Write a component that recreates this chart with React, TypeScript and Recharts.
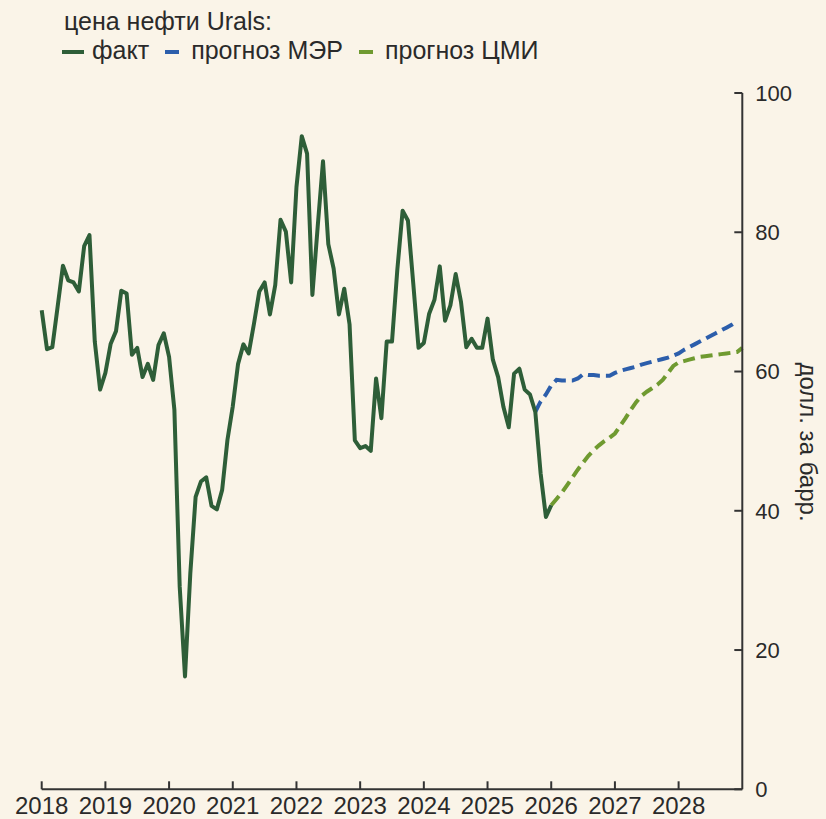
import { LineChart, Line, XAxis, YAxis } from 'recharts';

// monthly Urals price, Jan 2018 .. Jan 2026
const FACT = [
  68.8, 63.2, 63.5, 69.3, 75.2, 73.1, 72.8, 71.5, 78.0, 79.6, 64.3, 57.4,
  59.8, 64.0, 65.8, 71.6, 71.2, 62.4, 63.4, 59.2, 61.1, 58.8, 63.8, 65.5,
  62.1, 54.5, 29.1, 16.2, 31.0, 42.0, 44.2, 44.8, 40.7, 40.2, 43.0, 50.2,
  55.0, 61.1, 63.9, 62.6, 66.9, 71.5, 72.8, 68.2, 72.4, 81.8, 80.1, 72.8,
  86.5, 93.8, 91.3, 71.0, 80.8, 90.2, 78.3, 74.8, 68.2, 71.9, 66.8, 50.1,
  49.0, 49.3, 48.6, 59.0, 53.3, 64.3, 64.3, 74.6, 83.1, 81.7, 72.7, 63.4,
  64.1, 68.3, 70.3, 75.1, 67.3, 69.5, 74.0, 70.0, 63.5, 64.7, 63.4, 63.4,
  67.6, 61.7, 59.2, 54.9, 52.0, 59.7, 60.4, 57.4, 56.7, 54.2, 45.4, 39.1,
  40.8,
];

// прогноз МЭР, Oct 2025 .. Dec 2028
const MER_START = 93;
const MER = [
  54.2, 55.7, 56.7,
  58.0, 58.8, 58.7, 58.7, 58.7, 59.0, 59.6, 59.5, 59.5, 59.4, 59.4, 59.4,
  59.8, 60.1, 60.3, 60.5, 60.7, 61.0, 61.2, 61.4, 61.6, 61.8, 62.0, 62.3,
  62.6, 63.1, 63.5, 63.9, 64.3, 64.7, 65.1, 65.5, 65.9, 66.3, 66.7, 67.2,
];

// прогноз ЦМИ, Jan 2026 .. Jan 2029
const CMI_START = 96;
const CMI = [
  40.8, 41.7, 42.6, 43.7, 44.8, 45.9, 46.9, 47.9, 48.7, 49.4, 50.0, 50.5,
  51.1, 52.2, 53.3, 54.5, 55.6, 56.5, 57.1, 57.6, 58.1, 58.8, 59.8, 60.8,
  61.3, 61.5, 61.7, 61.9, 62.1, 62.2, 62.3, 62.4, 62.5, 62.6, 62.7, 62.8,
  63.4,
];

const YEARS = [2018, 2019, 2020, 2021, 2022, 2023, 2024, 2025, 2026, 2027, 2028];
const Y_TICKS = [0, 20, 40, 60, 80, 100];
const TOTAL_MONTHS = 132;

const BG = '#faf4e8';
const C_FACT = '#2e5e38';
const C_MER = '#2c5eab';
const C_CMI = '#6f9a30';
const C_TEXT = '#2a2a2a';
const C_AXIS = '#333333';
const FONT = '"Liberation Sans", Arial, sans-serif';

const data = Array.from({ length: TOTAL_MONTHS + 1 }, (_, m) => ({
  m,
  fact: m < FACT.length ? FACT[m] : undefined,
  mer: m >= MER_START && m - MER_START < MER.length ? MER[m - MER_START] : undefined,
  cmi: m >= CMI_START && m - CMI_START < CMI.length ? CMI[m - CMI_START] : undefined,
}));

const LegendSwatch = ({ color, width }: { color: string; width: number }) => (
  <span style={{ display: 'inline-block', width, height: 4, background: color, verticalAlign: 'middle', marginRight: 8 }} />
);

export default function App() {
  return (
    <div style={{ position: 'absolute', left: 0, top: 0, width: 826, height: 819, background: BG, fontFamily: FONT, color: C_TEXT }}>
      <div style={{ position: 'absolute', left: 64, top: 7, fontSize: 25, lineHeight: '29px', whiteSpace: 'nowrap' }}>
        цена нефти Urals:
      </div>
      <div style={{ position: 'absolute', left: 62, top: 36, fontSize: 25, lineHeight: '29px', whiteSpace: 'nowrap' }}>
        <LegendSwatch color={C_FACT} width={22} />
        <span style={{ marginRight: 16 }}>факт</span>
        <LegendSwatch color={C_MER} width={14} />
        <span style={{ marginRight: 16, marginLeft: 4 }}>прогноз МЭР</span>
        <LegendSwatch color={C_CMI} width={14} />
        <span style={{ marginLeft: 4 }}>прогноз ЦМИ</span>
      </div>
      <LineChart
        width={826}
        height={819}
        data={data}
        margin={{ top: 93, right: 23.7, bottom: 0, left: 41.7 }}
        style={{ position: 'absolute', left: 0, top: 0 }}
      >
        <XAxis
          dataKey="m"
          type="number"
          domain={[0, TOTAL_MONTHS]}
          ticks={YEARS.map((y) => (y - YEARS[0]) * 12)}
          tickFormatter={(v: number) => String(YEARS[0] + v / 12)}
          height={29.7}
          tickSize={-8}
          tickMargin={16}
          interval={0}
          stroke={C_AXIS}
          strokeWidth={2}
          tick={{ fill: C_TEXT, fontSize: 24, fontFamily: FONT }}
        />
        <YAxis
          orientation="right"
          type="number"
          domain={[0, 100]}
          ticks={Y_TICKS}
          width={60}
          tickSize={-8}
          tickMargin={21}
          interval={0}
          stroke={C_AXIS}
          strokeWidth={2}
          tick={{ fill: C_TEXT, fontSize: 22, fontFamily: FONT }}
          label={{
            content: () => (
              <text
                x={808}
                y={442}
                transform="rotate(90 808 442)"
                textAnchor="middle"
                dominantBaseline="central"
                fontSize={24}
                fontFamily={FONT}
                fill={C_TEXT}
              >
                долл. за барр.
              </text>
            ),
          }}
        />
        <Line dataKey="cmi" stroke={C_CMI} strokeWidth={4} strokeDasharray="12 6" dot={false} isAnimationActive={false} />
        <Line dataKey="mer" stroke={C_MER} strokeWidth={4} strokeDasharray="12 6" dot={false} isAnimationActive={false} />
        <Line dataKey="fact" stroke={C_FACT} strokeWidth={4} dot={false} strokeLinejoin="round" isAnimationActive={false} />
      </LineChart>
    </div>
  );
}
